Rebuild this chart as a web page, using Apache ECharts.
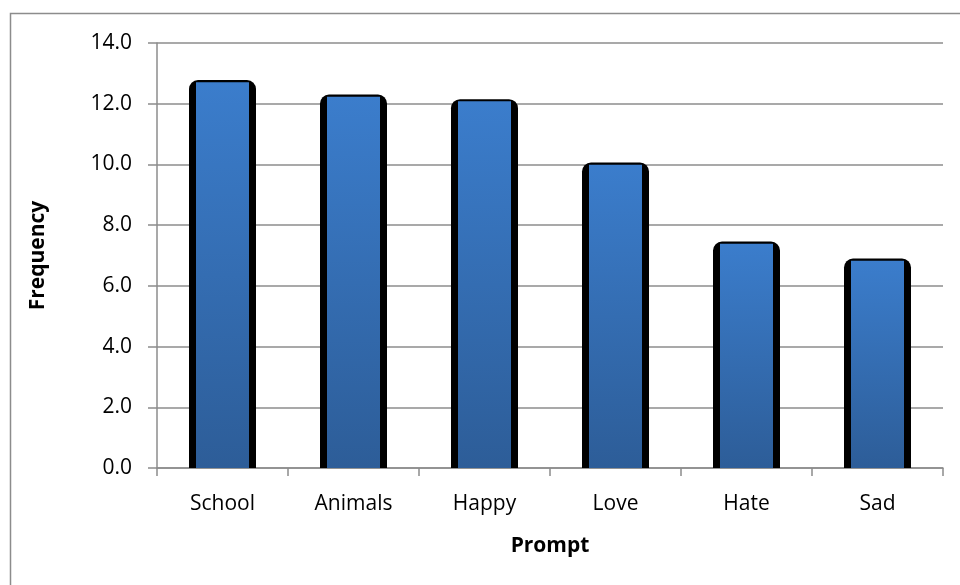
<!DOCTYPE html>
<html>
<head>
<meta charset="utf-8">
<script src="https://cdn.jsdelivr.net/npm/echarts@6/dist/echarts.min.js"></script>
<style>
  html, body { margin: 0; padding: 0; background: #fff; }
  #chart { width: 960px; height: 585px; }
</style>
</head>
<body>
<div id="chart"></div>
<script>
// prompt categories and their frequency
const categories = ["School", "Animals", "Happy", "Love", "Hate", "Sad"];
const frequency = [12.78, 12.3, 12.15, 10.06, 7.46, 6.9];
const yTicks = { min: 0, max: 14, interval: 2 };

const font = "'Open Sans', 'Liberation Sans', sans-serif";
const chart = echarts.init(document.getElementById("chart"));

const option = {
  animation: false,
  backgroundColor: "#fff",
  graphic: [
    {
      type: "rect",
      shape: { x: 10.5, y: 13.5, width: 1000, height: 1000 },
      style: { fill: "none", stroke: "#8c8c8c", lineWidth: 1.5 },
      silent: true
    }
  ],
  grid: { left: 157, right: 17, top: 43, bottom: 117 },
  xAxis: [
    {
      type: "category",
      data: categories,
      name: "Prompt",
      nameLocation: "middle",
      nameGap: 68,
      nameTextStyle: { fontFamily: font, fontWeight: "bold", fontSize: 21, color: "#000" },
      axisLine: { lineStyle: { color: "#8c8c8c", width: 1.5 } },
      axisTick: { show: true, length: 8, lineStyle: { color: "#8c8c8c", width: 1.5 } },
      axisLabel: { fontFamily: font, fontSize: 21, color: "#000", margin: 26 }
    },
    {
      type: "category",
      data: categories,
      show: false
    }
  ],
  yAxis: {
    type: "value",
    min: yTicks.min,
    max: yTicks.max,
    interval: yTicks.interval,
    name: "Frequency",
    nameLocation: "middle",
    nameGap: 108,
    nameRotate: 90,
    nameTextStyle: { fontFamily: font, fontWeight: "bold", fontSize: 21, color: "#000" },
    axisLine: { show: true, lineStyle: { color: "#8c8c8c", width: 1.5 } },
    axisTick: { show: true, length: 9, lineStyle: { color: "#8c8c8c", width: 1.5 } },
    axisLabel: {
      fontFamily: font, fontSize: 21, color: "#000", margin: 25,
      formatter: v => v.toFixed(1)
    },
    splitLine: { lineStyle: { color: "#8c8c8c", width: 1.5 } }
  },
  series: [
    {
      name: "shadow",
      type: "bar",
      xAxisIndex: 0,
      barWidth: 67,
      data: frequency,
      itemStyle: { color: "#000", borderRadius: [9, 9, 0, 0] },
      z: 2
    },
    {
      name: "Frequency",
      type: "bar",
      xAxisIndex: 1,
      barWidth: 53,
      data: frequency.map(v => v - 0.07),
      itemStyle: {
        color: new echarts.graphic.LinearGradient(0, 0, 0, 1, [
          { offset: 0, color: "#3b7dcc" },
          { offset: 1, color: "#2d5d98" }
        ])
      },
      z: 3
    }
  ]
};

chart.setOption(option);
</script>
</body>
</html>
